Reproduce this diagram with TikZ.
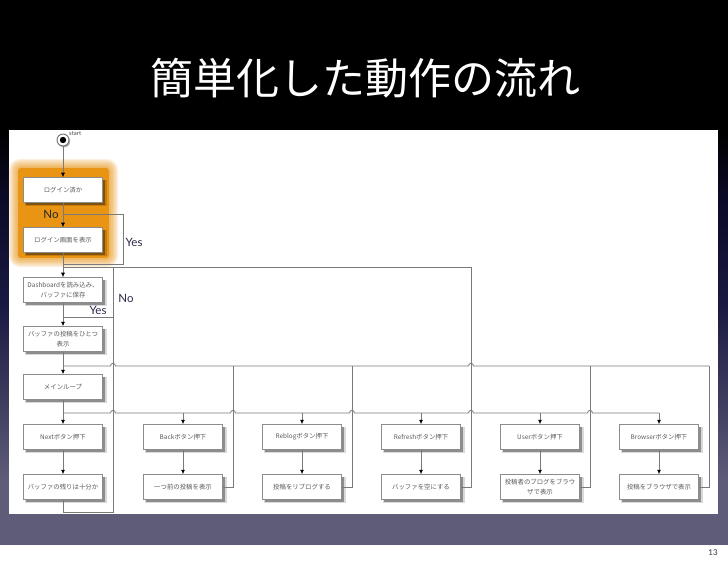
\documentclass[tikz,border=0pt]{standalone}
\usepackage{fontspec}
\newfontfamily\jp{Noto Sans CJK JP}
\newfontfamily\lbl{Lato}
\usetikzlibrary{arrows.meta,shadows}
\definecolor{slate}{HTML}{5E5C78}
\definecolor{navy}{HTML}{1A1942}
\definecolor{deepnavy}{HTML}{0B0A26}
\definecolor{glow}{HTML}{E99412}
\definecolor{lbltext}{HTML}{2B2A4A}
\definecolor{wire}{HTML}{7A7A7A}
\definecolor{boxtext}{HTML}{5A5A5A}
\pgfdeclareverticalshading{bgshade}{100bp}{color(0bp)=(slate); color(25bp)=(slate); color(31bp)=(slate); color(38bp)=(slate!55!navy); color(47bp)=(navy); color(57bp)=(deepnavy); color(63bp)=(black); color(100bp)=(black)}
\tikzset{
  box/.style={draw=black!45, fill=white, line width=0.5pt, minimum width=79pt, minimum height=25pt,
    font=\jp\fontsize{6.4}{9.5}\selectfont, text=boxtext, align=center, inner sep=1pt,
    drop shadow={shadow xshift=2.8pt, shadow yshift=-3pt, opacity=.15, fill=black, shadow scale=1.04},
    drop shadow={shadow xshift=2pt, shadow yshift=-2.2pt, opacity=.35, fill=black}},
  wire/.style={draw=wire, line width=0.8pt},
  arr/.style={wire, -{Latex[length=4.5pt,width=4pt,color=black]}},
  yn/.style={font=\lbl\fontsize{11.5}{12}\selectfont, text=lbltext, inner sep=0pt}
}
\begin{document}
\begin{tikzpicture}[x=1pt,y=-1pt]
\useasboundingbox (0,0) rectangle (728,561);
% background
\shade[shading=bgshade] (0,0) rectangle (728,545);
\fill[white] (0,545) rectangle (728,561);
\fill[white] (9,130) rectangle (718,514);
% title
\node[text=white, font=\jp\fontsize{43}{43}\selectfont] (title) at (365,78) {簡単化した動作の流れ};
\node[font=\lbl\fontsize{8}{8}\selectfont, text=black!80] (pageno) at (713,553) {13};
% orange glow
\foreach \i in {1,...,7} {
  \fill[glow, opacity=0.13, rounded corners={3pt+\i*1.2pt}] ({18-\i*1.3},{168-\i*1.3}) rectangle ({109+\i*1.3},{258+\i*1.3});
}
\fill[glow, rounded corners=3pt] (18,168) rectangle (109,258);
% start
\node[circle, minimum size=12pt, inner sep=0pt, draw=black!55, fill=white, line width=0.9pt,
  drop shadow={shadow xshift=1.2pt, shadow yshift=-1.5pt, opacity=.3, fill=black}] (start) at (63,140) {};
\fill[black] (start.center) circle (3.2pt);
\node[font=\lbl\fontsize{6}{6}\selectfont, text=black!70, anchor=west, inner sep=0pt] (startlbl) at (69,134) {start};
% boxes
\node[box] (b1) at (63,190) {ログイン済か};
\node[box] (b2) at (63,240) {ログイン画面を表示};
\node[box] (b3) at (63,290) {Dashboardを読み込み、\\バッファに保存};
\node[box] (b4) at (63,339) {バッファの投稿をひとつ\\表示};
\node[box] (main) at (63,387) {メインループ};
\node[box] (next) at (63,437) {Nextボタン押下};
\node[box] (buf) at (63,487) {バッファの残りは十分か};
\node[box] (back) at (183,437) {Backボタン押下};
\node[box] (prev) at (183,487) {一つ前の投稿を表示};
\node[box] (reblog) at (302,437) {Reblogボタン押下};
\node[box] (rebl2) at (302,487) {投稿をリブログする};
\node[box] (refresh) at (421,437) {Refreshボタン押下};
\node[box] (empty) at (421,487) {バッファを空にする};
\node[box] (user) at (540,437) {Userボタン押下};
\node[box] (userb) at (540,487) {投稿者のブログをブラウ\\ザで表示};
\node[box] (browser) at (659,437) {Browserボタン押下};
\node[box] (brow2) at (659,487) {投稿をブラウザで表示};
% junction coordinates
\coordinate (j1) at (63,214);
\coordinate (c1) at (123,264);
\coordinate (j2) at (63,264);
\coordinate (j3) at (63,267);
\coordinate (k3) at (471,267);
\coordinate (e3) at (471,487);
\coordinate (e0) at (113,512);
\coordinate (k0) at (113,267);
\coordinate (m0) at (113,317);
\coordinate (j4) at (63,317);
\coordinate (j5) at (63,366);
\coordinate (k5) at (709,366);
\coordinate (j6) at (63,413);
\coordinate (d2) at (183,413);
\coordinate (d3) at (302,413);
\coordinate (d4) at (421,413);
\coordinate (d5) at (540,413);
\coordinate (d6) at (659,413);
\coordinate (t1) at (233,366);
\coordinate (t2) at (352,366);
\coordinate (t4) at (590,366);
\coordinate (t5) at (709,366);
% connectors
\draw[arr] (start) -- (b1.north);
\draw[arr] (b1.south) -- (b2.north);
\draw[wire] (j1) -| (c1) -- (j2);
\draw[wire] (b2.south) -- (j3);
\draw[arr] (j3) -- (b3.north);
\draw[wire] (j3) -- (k3) -- (e3) -- (empty.east);
\draw[wire] (buf.south) |- (e0) -- (k0);
\draw[wire] (m0) -- (j4);
\draw[wire] (b3.south) -- (j4);
\draw[arr] (j4) -- (b4.north);
\draw[wire] (b4.south) -- (j5);
\draw[arr] (j5) -- (main.north);
\draw[wire] (j5) -- (110.5,366) .. controls (110.5,362.5) and (115.5,362.5) .. (115.5,366)
  -- (468.5,366) .. controls (468.5,362.5) and (473.5,362.5) .. (473.5,366) -- (k5);
\draw[wire] (main.south) -- (j6);
\draw[arr] (j6) -- (next.north);
\draw[wire] (j6) -- (110.5,413) .. controls (110.5,409.5) and (115.5,409.5) .. (115.5,413)
  -- (230.5,413) .. controls (230.5,409.5) and (235.5,409.5) .. (235.5,413)
  -- (349.5,413) .. controls (349.5,409.5) and (354.5,409.5) .. (354.5,413)
  -- (468.5,413) .. controls (468.5,409.5) and (473.5,409.5) .. (473.5,413)
  -- (587.5,413) .. controls (587.5,409.5) and (592.5,409.5) .. (592.5,413) -- (d6);
\draw[arr] (d2) -- (back.north);
\draw[arr] (d3) -- (reblog.north);
\draw[arr] (d4) -- (refresh.north);
\draw[arr] (d5) -- (user.north);
\draw[arr] (d6) -- (browser.north);
\draw[arr] (next) -- (buf);
\draw[arr] (back) -- (prev);
\draw[arr] (reblog) -- (rebl2);
\draw[arr] (refresh) -- (empty);
\draw[arr] (user) -- (userb);
\draw[arr] (browser) -- (brow2);
\draw[wire] (prev.east) -| (t1);
\draw[wire] (rebl2.east) -| (t2);
\draw[wire] (userb.east) -| (t4);
\draw[wire] (brow2.east) -| (t5);
% labels
\node[yn, text=black!85] (no1) at (51,214) {No};
\node[yn] (yes1) at (134,242) {Yes};
\node[yn] (no2) at (126,298) {No};
\node[yn] (yes2) at (98,310) {Yes};
\end{tikzpicture}
\end{document}
